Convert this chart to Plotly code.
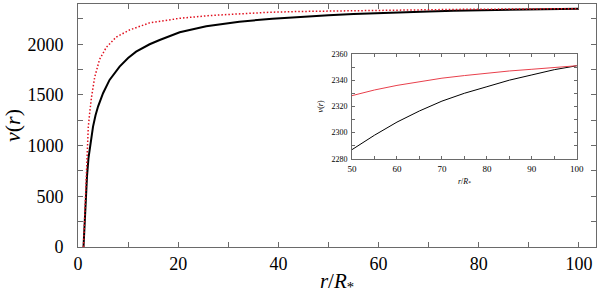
import plotly.graph_objects as go

# Black solid series (r/R*, v)
black_r = [1.1, 1.3, 1.54, 1.8, 2.1, 2.4, 3.0, 3.5, 4.0, 5.0, 6.3, 8.3, 10.0, 11.6, 14.3, 16.3, 20.3,
           25.6, 32.2, 38.8, 44.2, 50, 55, 60, 65, 70, 75, 80, 85, 90, 95, 100]
black_v = [0, 250, 466, 700, 880, 991, 1188, 1300, 1385, 1517, 1648, 1779, 1865, 1927, 2000, 2042, 2118,
           2178, 2223, 2252, 2272, 2287, 2298, 2308, 2316.5, 2324, 2330, 2335, 2340, 2344, 2348, 2351]

# Red dotted series
red_r = [1.1, 1.3, 1.54, 1.8, 2.05, 2.33, 2.67, 3.33, 4.3, 5.66, 7.6, 10.3, 14.3, 20.3, 26, 32,
         38, 44, 50, 55, 60, 65, 70, 75, 80, 85, 90, 95, 100]
red_v = [0, 280, 534, 991, 1180, 1320, 1470, 1675, 1850, 1970, 2070, 2141, 2211, 2256, 2282, 2299,
         2315, 2323, 2328, 2332.5, 2336, 2339, 2341.5, 2343.5, 2345.3, 2347, 2348.3, 2349.7, 2351]

# Tick labels
main_xticks = [0, 20, 40, 60, 80, 100]
main_yticks = [0, 500, 1000, 1500, 2000]
inset_xticks = [50, 60, 70, 80, 90, 100]
inset_yticks = [2280, 2300, 2320, 2340, 2360]

FONT = "Liberation Serif, Times New Roman, DejaVu Serif, serif"
AX = "#6a6a6a"

fig = go.Figure()
fig.add_trace(go.Scatter(x=black_r, y=black_v, mode="lines",
                         line=dict(color="black", width=2), xaxis="x", yaxis="y", showlegend=False))
fig.add_trace(go.Scatter(x=red_r, y=red_v, mode="lines",
                         line=dict(color="#e0101e", width=1.5, dash="1.5px,2px"), xaxis="x", yaxis="y", showlegend=False))
fig.add_trace(go.Scatter(x=black_r, y=black_v, mode="lines",
                         line=dict(color="black", width=1), xaxis="x2", yaxis="y2", showlegend=False))
fig.add_trace(go.Scatter(x=red_r, y=red_v, mode="lines",
                         line=dict(color="#e8404c", width=1), xaxis="x2", yaxis="y2", showlegend=False))

common = dict(showgrid=False, zeroline=False, showline=True, linecolor=AX, linewidth=1,
              mirror="ticks", ticks="inside", tickcolor=AX, automargin=False)

fig.update_layout(
    template="none",
    width=600, height=299,
    margin=dict(l=78, r=4, t=4, b=52, autoexpand=False),
    paper_bgcolor="white", plot_bgcolor="white",
    font=dict(family=FONT, color="black"),
    xaxis=dict(range=[0, 103.4], tickvals=main_xticks, ticklen=5, ticklabelstandoff=0,
               minor=dict(dtick=10, tick0=0, ticks="inside", ticklen=5, tickcolor=AX),
               tickfont=dict(size=18, family=FONT),
               title=dict(text="<i>r</i>/<i>R</i><sub>*</sub>", font=dict(size=21, family=FONT), standoff=0),
               **common),
    yaxis=dict(range=[0, 2397], tickvals=main_yticks, ticklen=5, ticklabelstandoff=10,
               minor=dict(dtick=250, tick0=0, ticks="inside", ticklen=5, tickcolor=AX),
               tickfont=dict(size=18, family=FONT),
               title=dict(text="<i>v</i>(<i>r</i>)", font=dict(size=22, family=FONT), standoff=6),
               **common),
    xaxis2=dict(domain=[0.529, 0.963], anchor="y2", range=[50, 100],
                tickvals=inset_xticks, ticklen=3, ticklabelstandoff=1,
                minor=dict(dtick=5, tick0=50, ticks="inside", ticklen=3, tickcolor=AX),
                tickfont=dict(size=9, family=FONT),
                title=dict(text="<i>r</i>/<i>R</i><sub>*</sub>", font=dict(size=8, family=FONT), standoff=5),
                **common),
    yaxis2=dict(domain=[0.363, 0.7945], anchor="x2", range=[2280, 2360],
                tickvals=inset_yticks, ticklen=3, ticklabelstandoff=2,
                minor=dict(dtick=10, tick0=2280, ticks="inside", ticklen=3, tickcolor=AX),
                tickfont=dict(size=8, family=FONT),
                title=dict(text="<i>v</i>(<i>r</i>)", font=dict(size=8, family=FONT), standoff=6),
                **common),
)

fig.write_html("out.html", config={"displayModeBar": False},
               post_script="document.body.style.margin='0';")
